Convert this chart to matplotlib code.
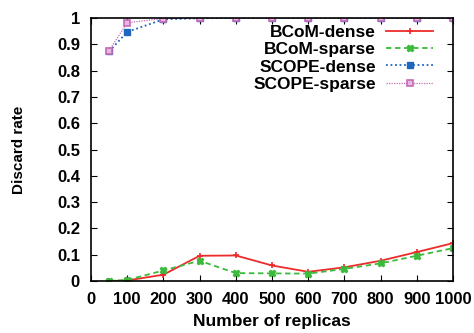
import matplotlib
matplotlib.use('Agg')
import matplotlib.pyplot as plt

# replica counts and discard rates
replicas = [50, 100, 200, 300, 400, 500, 600, 700, 800, 900, 1000]
bcom_dense = [0.0, 0.002, 0.024, 0.096, 0.097, 0.059, 0.035, 0.052, 0.077, 0.110, 0.144]
bcom_sparse = [0.0, 0.004, 0.040, 0.077, 0.030, 0.029, 0.028, 0.046, 0.067, 0.096, 0.125]
scope_dense = [0.873, 0.947, 0.995, 0.999, 1.0, 1.0, 1.0, 1.0, 1.0, 1.0, 1.0]
scope_sparse = [0.876, 0.982, 0.998, 1.0, 1.0, 1.0, 1.0, 1.0, 1.0, 1.0, 1.0]

xticks = [0, 100, 200, 300, 400, 500, 600, 700, 800, 900, 1000]
yticks = [0, 0.1, 0.2, 0.3, 0.4, 0.5, 0.6, 0.7, 0.8, 0.9, 1]

plt.rcParams['font.family'] = ['Liberation Sans', 'DejaVu Sans']
plt.rcParams['font.weight'] = 'bold'

fig = plt.figure(figsize=(4.74, 3.33), dpi=100)
ax = fig.add_axes([91 / 474, 1 - 281 / 333, 362 / 474, 263 / 333])

ax.plot(replicas, bcom_dense, color='#ee2b2b', linestyle='-', linewidth=1.3,
        marker='+', markersize=5, markeredgewidth=1.2, label='BCoM-dense')
ax.plot(replicas, bcom_sparse, color='#3cba3c', linestyle=(0, (3, 2)), linewidth=1.3,
        marker='X', markersize=5, label='BCoM-sparse')
ax.plot(replicas, scope_dense, color='#1f66bf', linestyle=(0, (1, 1.5)), linewidth=1.3,
        marker='s', markersize=4, label='SCOPE-dense')
ax.plot(replicas, scope_sparse, color='#c46cb8', linestyle=(0, (1, 1)), linewidth=0.9,
        marker='s', markersize=5, markerfacecolor='#e6b8de', markeredgewidth=1.2,
        label='SCOPE-sparse')

ax.set_xlim(0, 1000)
ax.set_ylim(0, 1)
ax.set_xticks(xticks)
ax.set_yticks(yticks)
ax.set_yticklabels(['0', '0.1', '0.2', '0.3', '0.4', '0.5', '0.6', '0.7', '0.8', '0.9', '1'])
ax.tick_params(direction='in', top=True, right=True, labelsize=12, length=4, pad=8)
for s in ax.spines.values():
    s.set_linewidth(1.2)

ax.set_xlabel('Number of replicas', fontsize=12.5, fontweight='bold', labelpad=5)
ax.set_ylabel('Discard rate', fontsize=11, fontweight='bold', labelpad=22)

ax.legend(loc='upper right', bbox_to_anchor=(0.979, 1.02), frameon=False, markerfirst=False,
          fontsize=12.5, handlelength=2.7, handletextpad=0.6, labelspacing=0.12,
          borderpad=0.2)

fig.savefig('out.png', dpi=100)
